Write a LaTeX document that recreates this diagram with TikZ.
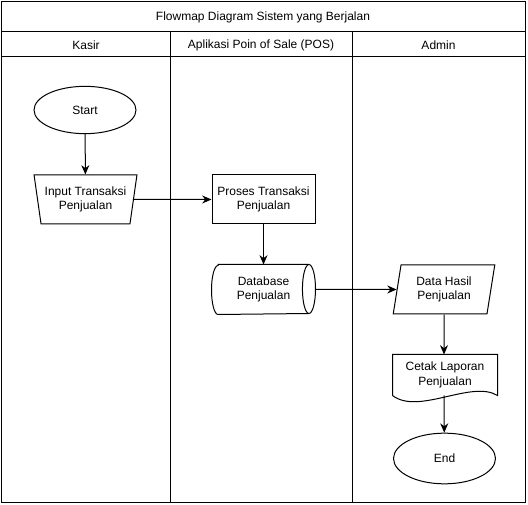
\documentclass[tikz,border=0pt]{standalone}
\usepackage{fontspec}
\setmainfont{Liberation Sans}
\usetikzlibrary{arrows.meta,shapes.geometric}
\tikzset{
	terminal/.style={draw, ellipse, minimum width=76.5pt, minimum height=35.5pt, inner sep=0pt},
	manualin/.style={draw, trapezium, trapezium stretches=true, shape border rotate=180, trapezium left angle=76, trapezium right angle=76, minimum width=77.25pt, minimum height=36.75pt, inner sep=0pt, align=center},
	prosesbox/.style={draw, rectangle, minimum width=77.25pt, minimum height=36.75pt, inner sep=0pt, align=center},
	dbase/.style={rectangle, minimum width=77.25pt, minimum height=36.75pt, inner sep=0pt, align=center},
	dataio/.style={draw, trapezium, trapezium stretches=true, trapezium left angle=79, trapezium right angle=101, minimum width=76.5pt, minimum height=36.75pt, inner sep=0pt, align=center},
	docbox/.style={rectangle, minimum width=78pt, minimum height=30pt, inner sep=0pt, align=center},
	alur/.style={-{Stealth[length=7pt,width=6pt]}}
}

\begin{document}
\begin{tikzpicture}[x=0.75pt, y=-0.75pt, line width=0.75pt, every node/.style={font=\fontsize{9pt}{11pt}\selectfont}]
			%%%%% START %%%%%
			
			\useasboundingbox (0, 0) rectangle (528, 505);
			
			\draw (1.5, 1.5) rectangle (525, 502);
			\draw (1.5, 32) -- (525, 32);
			\draw (1.5, 57) -- (525, 57);
			\draw (170, 32) -- (170, 502);
			\draw (352, 32) -- (352, 502);
			
			\node (judul) at (263, 17) {Flowmap Diagram Sistem yang Berjalan};
			\node (kasir) at (86, 45) {Kasir};
			\node (pos) at (261, 45) {Aplikasi Poin of Sale (POS)};
			\node (admin) at (438.5, 45) {Admin};
			
			\node[terminal] (start) at (85, 110) {Start};
			\node[manualin] (input) at (85.5, 199.5) {Input Transaksi\\Penjualan};
			\node[prosesbox] (proses) at (263.5, 199.5) {Proses Transaksi\\Penjualan};
			
			\node[dbase] (db) at (263.5, 289.5) {Database\\Penjualan};
			\draw ([xshift=4.9pt]db.north west) -- ([xshift=-4.9pt]db.north east)
				arc (90:-90:4.9pt and 18.375pt) -- ([xshift=4.9pt]db.south west)
				arc (270:90:4.9pt and 18.375pt) -- cycle;
			\draw ([xshift=-4.9pt]db.north east) arc (90:270:4.9pt and 18.375pt);
			
			\node[dataio] (data) at (444, 289.5) {Data Hasil\\Penjualan};
			
			\node[docbox] (cetak) at (445, 375) {Cetak Laporan\\Penjualan};
			\draw (cetak.south west) -- (cetak.north west) -- (cetak.north east) -- (cetak.south east)
				.. controls +(-26, -16) and +(26, 20) .. (cetak.south west);
			
			\node[terminal, minimum height=38pt] (end) at (444.5, 458.5) {End};
			
			\draw[alur] (start) -- (input);
			\draw[alur] (input) -- (proses);
			\draw[alur] (proses) -- (db);
			\draw[alur] (db) -- (data);
			\draw[alur] (data) -- (data |- cetak.north);
			\draw[alur] (data.south |- cetak.south) -- (end);
			
			%%%%% END %%%%%
		\end{tikzpicture}
\end{document}
